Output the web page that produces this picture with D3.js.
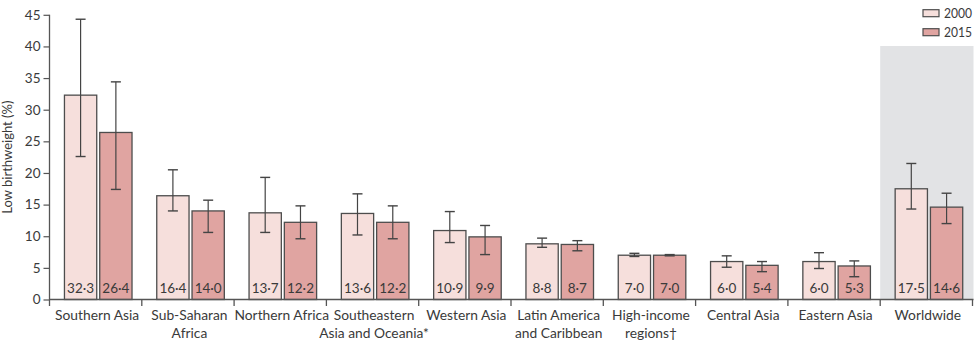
<!DOCTYPE html>
<html>
<head>
<meta charset="utf-8">
<script src="https://cdn.jsdelivr.net/npm/d3@7"></script>
<style>
  html, body { margin: 0; padding: 0; background: #fff; }
  svg { display: block; }
  text { font-family: Lato, "Open Sans", sans-serif; fill: #3a3a3a; }
</style>
</head>
<body>
<svg id="chart" width="975" height="359"></svg>
<script>
// ---- data ----
const categories = [
  ["Southern Asia"],
  ["Sub-Saharan", "Africa"],
  ["Northern Africa"],
  ["Southeastern", "Asia and Oceania*"],
  ["Western Asia"],
  ["Latin America", "and Caribbean"],
  ["High-income", "regions\u2020"],
  ["Central Asia"],
  ["Eastern Asia"],
  ["Worldwide"]
];
const series = ["2000", "2015"];
const values2000 = [32.3, 16.4, 13.7, 13.6, 10.9, 8.8, 7.0, 6.0, 6.0, 17.5];
const values2015 = [26.4, 14.0, 12.2, 12.2, 9.9, 8.7, 7.0, 5.4, 5.3, 14.6];
const low2000  = [22.6, 14.0, 10.6, 10.2, 9.0, 8.25, 6.8, 5.1, 4.9, 14.3];
const high2000 = [44.3, 20.5, 19.3, 16.7, 13.9, 9.7, 7.3, 6.9, 7.4, 21.5];
const low2015  = [17.4, 10.6, 9.6, 9.6, 7.1, 7.7, 6.9, 4.4, 3.6, 12.0];
const high2015 = [34.4, 15.7, 14.8, 14.8, 11.7, 9.3, 7.1, 6.0, 6.1, 16.8];
const yTicks = [0, 5, 10, 15, 20, 25, 30, 35, 40, 45];

const fmt = v => v.toFixed(1).replace(".", "\u00b7");

// ---- layout ----
const svg = d3.select("#chart");
const x0 = 49.5, x1 = 972.5;
const y = d3.scaleLinear().domain([0, 45]).range([299.5, 14.8]);
const xCat = d3.scaleBand().domain(d3.range(categories.length)).range([x0, x1]).padding(0);
const bw = xCat.bandwidth();
// inner positions of the two bars within each category
const xSer = d3.scaleBand().domain(series).range([bw * 0.162, bw * 0.894]).paddingInner(0.085);

const colors = { "2000": "#f6dfdc", "2015": "#e0a4a1" };
const stroke = "#4d4d4d";

// worldwide shading
const last = categories.length - 1;
svg.append("rect")
  .attr("x", xCat(last)).attr("y", 46)
  .attr("width", x1 - xCat(last) + 1).attr("height", y(0) - 46)
  .attr("fill", "#e2e3e5");

const rows = categories.map((c, i) => ({
  i,
  bars: [
    { s: "2000", v: values2000[i], lo: low2000[i], hi: high2000[i] },
    { s: "2015", v: values2015[i], lo: low2015[i], hi: high2015[i] }
  ]
}));

const g = svg.append("g").selectAll("g").data(rows).join("g")
  .attr("transform", d => `translate(${xCat(d.i)},0)`);

const bar = g.selectAll("g.bar").data(d => d.bars).join("g").attr("class", "bar");

bar.append("rect")
  .attr("x", d => xSer(d.s))
  .attr("y", d => y(d.v))
  .attr("width", xSer.bandwidth())
  .attr("height", d => y(0) - y(d.v))
  .attr("fill", d => colors[d.s])
  .attr("stroke", stroke)
  .attr("stroke-width", 1.3);

// error bars
const cap = 5;
bar.append("line")
  .attr("x1", d => xSer(d.s) + xSer.bandwidth() / 2)
  .attr("x2", d => xSer(d.s) + xSer.bandwidth() / 2)
  .attr("y1", d => y(d.lo)).attr("y2", d => y(d.hi))
  .attr("stroke", "#444").attr("stroke-width", 1.2);
bar.append("line")
  .attr("x1", d => xSer(d.s) + xSer.bandwidth() / 2 - cap)
  .attr("x2", d => xSer(d.s) + xSer.bandwidth() / 2 + cap)
  .attr("y1", d => y(d.hi)).attr("y2", d => y(d.hi))
  .attr("stroke", "#444").attr("stroke-width", 1.4);
bar.append("line")
  .attr("x1", d => xSer(d.s) + xSer.bandwidth() / 2 - cap)
  .attr("x2", d => xSer(d.s) + xSer.bandwidth() / 2 + cap)
  .attr("y1", d => y(d.lo)).attr("y2", d => y(d.lo))
  .attr("stroke", "#444").attr("stroke-width", 1.4);

// value labels
bar.append("text")
  .attr("x", d => xSer(d.s) + xSer.bandwidth() / 2)
  .attr("y", 293)
  .attr("text-anchor", "middle")
  .attr("font-size", 13.5)
  .text(d => fmt(d.v));

// y axis
const yAxis = d3.axisLeft(y).tickValues(yTicks).tickSize(6).tickPadding(3).tickFormat(d3.format("d"));
const ya = svg.append("g").attr("transform", `translate(${x0},0)`).call(yAxis);
ya.select(".domain").remove();
ya.selectAll(".tick line").attr("stroke", "#555").attr("stroke-width", 1.2);
ya.selectAll(".tick text").attr("font-size", 13.5).attr("fill", "#3a3a3a")
  .style("font-family", "Lato, 'Open Sans', sans-serif");
svg.append("line").attr("x1", x0).attr("x2", x0).attr("y1", y(45)).attr("y2", 306)
  .attr("stroke", "#555").attr("stroke-width", 1.3);

// x axis baseline and separators
svg.append("line").attr("x1", x0).attr("x2", x1 + 1).attr("y1", y(0)).attr("y2", y(0))
  .attr("stroke", "#555").attr("stroke-width", 1.3);
svg.append("g").selectAll("line").data(d3.range(1, categories.length + 1)).join("line")
  .attr("x1", i => i < categories.length ? xCat(i) : x1)
  .attr("x2", i => i < categories.length ? xCat(i) : x1)
  .attr("y1", y(0)).attr("y2", 306)
  .attr("stroke", "#555").attr("stroke-width", 1.3);

// category labels
const cl = svg.append("g").selectAll("text").data(rows).join("text")
  .attr("x", d => xCat(d.i) + bw / 2 + 1.5)
  .attr("y", 320)
  .attr("text-anchor", "middle")
  .attr("font-size", 13.8);
cl.selectAll("tspan").data(d => categories[d.i].map((t, k) => ({ t, k }))).join("tspan")
  .attr("x", function () { return d3.select(this.parentNode).attr("x"); })
  .attr("dy", d => d.k === 0 ? 0 : 17.5)
  .text(d => d.t);

// y title
svg.append("text")
  .attr("transform", `translate(12,${(y(0) + y(45)) / 2}) rotate(-90)`)
  .attr("text-anchor", "middle")
  .attr("font-size", 13)
  .text("Low birthweight (%)");

// legend
const lg = svg.append("g").selectAll("g").data(series).join("g")
  .attr("transform", (d, k) => `translate(923,${9.7 + k * 19})`);
lg.append("rect").attr("width", 16).attr("height", 7)
  .attr("fill", d => colors[d]).attr("stroke", stroke).attr("stroke-width", 1.2);
lg.append("text").attr("x", 21).attr("y", 8).attr("font-size", 12.5)
  .attr("textLength", 28).attr("lengthAdjust", "spacingAndGlyphs").text(d => d);
</script>
</body>
</html>
